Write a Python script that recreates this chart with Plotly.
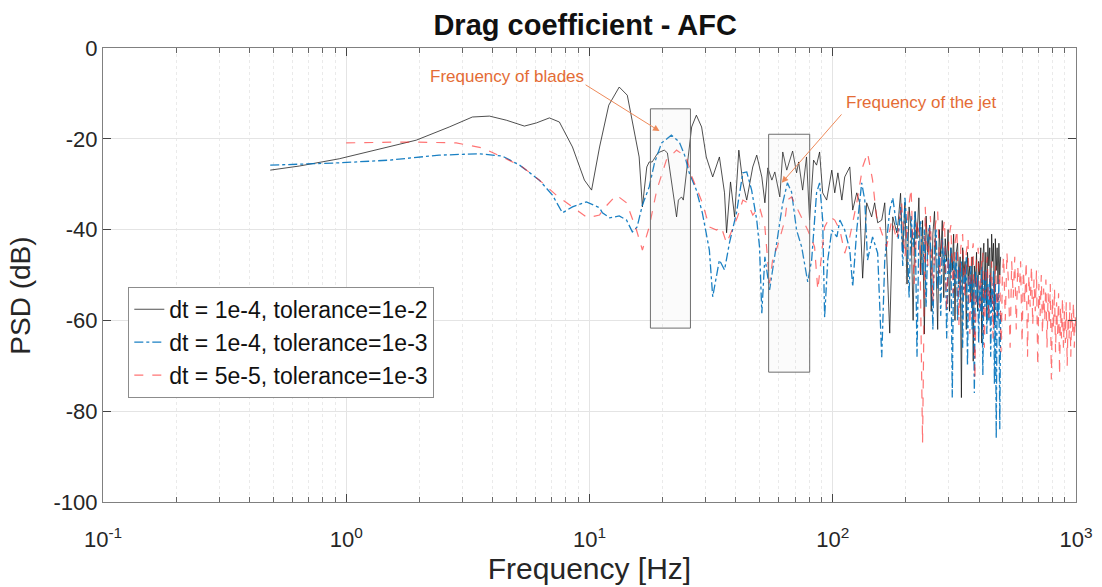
import math
import plotly.graph_objects as go

# ---------------- data (frequency [Hz], PSD [dB]) ----------------
black_smooth = [
    (0.487, -26.9), (0.641, -26.0), (0.936, -24.4), (1.41, -22.0), (1.94, -20.3),
    (2.65, -17.4), (3.30, -15.2), (3.88, -15.0), (4.55, -15.9), (5.40, -17.2),
    (6.05, -16.5), (6.84, -15.4), (7.52, -16.3), (8.51, -21.8), (9.53, -29.1),
    (10.2, -31.3), (11.0, -21.8), (12.0, -12.6), (13.25, -8.6), (14.3, -10.4),
    (15.3, -18.1), (16.0, -24.0), (16.5, -35.0), (17.2, -26.2), (17.6, -25.1),
    (18.1, -25.1), (19.1, -23.1), (20.3, -22.5), (20.9, -23.1), (21.9, -30.6),
    (22.8, -37.2), (23.2, -33.5), (23.9, -32.8), (24.3, -33.5), (25.3, -24.7),
    (26.3, -17.4), (27.5, -14.8), (28.9, -17.4), (30.2, -24.0), (32.1, -28.4),
    (34.2, -24.0), (35.9, -31.9), (36.6, -40.7), (38.0, -29.5), (39.5, -37.2),
    (41.1, -22.5), (42.7, -29.7), (44.3, -33.5), (46.9, -26.2), (48.7, -23.6),
    (51.1, -28.4), (52.6, -34.1), (54.1, -26.4), (56.2, -29.1), (57.8, -27.3),
    (60.6, -32.8), (62.3, -22.9), (64.7, -26.9), (68.4, -22.7), (71.0, -27.5),
    (72.4, -25.1), (75.2, -31.3), (78.0, -24.0), (80.3, -37.9), (83.4, -24.7),
    (85.8, -25.8), (88.3, -22.9), (90.9, -31.9), (94.4, -33.5), (99.1, -26.9),
    (101.9, -31.9), (105.0, -27.5), (109.0, -33.5), (112.0, -28.4), (117.5, -26.2),
    (120.8, -35.7), (125.5, -31.9), (129.0, -34.1), (132.7, -50.7), (137.9, -34.1),
    (144.5, -37.2), (148.7, -34.1), (153.0, -38.5), (159.0, -37.9), (163.6, -34.1),
    (171.5, -62.8), (176.5, -37.2), (183.4, -40.7),
]
black_noisy = [
    (186, -38), (190, -32), (194, -45), (198, -34), (202, -52), (206, -35), (210, -40),
    (214, -60), (218, -36), (222, -42), (226, -33), (230, -50), (234, -38), (238, -63),
    (242, -37), (246, -45), (250, -39), (254, -58), (258, -41), (262, -36), (266, -48),
    (270, -62), (274, -40), (278, -46), (282, -38), (286, -55), (290, -42), (294, -47),
    (298, -40), (302, -58), (306, -44), (310, -49), (314, -41), (318, -60), (322, -45),
    (326, -43), (330, -52), (334, -46), (338, -77), (342, -44), (346, -50), (350, -47),
    (354, -62), (358, -45), (362, -51), (366, -48), (370, -56), (374, -46), (378, -69),
    (382, -48), (386, -52), (390, -45), (394, -58), (398, -47), (402, -50), (406, -44),
    (410, -65), (414, -46), (418, -43), (422, -54), (426, -45), (430, -60), (434, -42),
    (438, -48), (442, -44), (446, -56), (450, -41), (454, -47), (458, -43), (462, -61),
    (466, -42), (470, -49), (474, -44), (478, -52), (482, -43), (486, -50), (490, -46),
]

blue_smooth = [
    (0.487, -25.8), (0.936, -25.3), (1.50, -24.7), (2.41, -23.6), (3.52, -23.3),
    (4.38, -23.8), (5.16, -25.8), (6.22, -29.1), (7.04, -32.4), (7.74, -36.3),
    (8.51, -35.0), (9.71, -33.9), (11.0, -35.2), (11.3, -36.3), (12.1, -37.4),
    (13.25, -37.0), (14.2, -37.9), (15.0, -40.5), (15.7, -39.4), (16.5, -34.6),
    (17.6, -30.6), (18.5, -25.3), (19.8, -20.9), (21.7, -19.2), (23.4, -20.7),
    (24.6, -23.6), (25.7, -27.5), (27.5, -31.3), (29.1, -36.3), (31.1, -44.5),
    (32.1, -54.8), (33.3, -49.6), (34.2, -46.7), (35.9, -48.9), (37.6, -43.0),
    (40.2, -36.3), (42.7, -27.5), (44.3, -27.3), (46.4, -31.3), (48.7, -37.9),
    (50.0, -43.8), (51.1, -58.4), (52.6, -46.0), (55.0, -53.3), (58.6, -43.8),
    (62.3, -34.1), (65.1, -29.7), (67.7, -31.7), (71.0, -40.1), (74.5, -43.8),
    (78.9, -51.5), (81.9, -46.7), (85.8, -31.9), (88.3, -29.7), (90.9, -37.9),
    (92.6, -59.3), (95.4, -46.7), (99.1, -40.1), (104.0, -41.6), (107.0, -37.9),
    (112.0, -40.1), (117.5, -44.5), (120.8, -52.6), (125.5, -40.1), (131.5, -29.7),
    (135.4, -33.5), (139.0, -46.7), (145.8, -41.6), (153.0, -45.2), (159.0, -68.1),
    (163.6, -46.7), (171.5, -35.7), (176.5, -33.0), (183.4, -40.1),
]
blue_noisy = [
    (186, -42), (190, -35), (194, -48), (198, -33), (202, -40), (206, -55), (210, -37),
    (214, -44), (218, -36), (222, -68), (226, -41), (230, -38), (234, -50), (238, -40),
    (242, -57), (246, -42), (250, -39), (254, -47), (258, -62), (262, -43), (266, -40),
    (270, -53), (274, -45), (278, -59), (282, -42), (286, -48), (290, -44), (294, -64),
    (298, -46), (302, -50), (306, -44), (310, -77), (314, -47), (318, -52), (322, -45),
    (326, -60), (330, -48), (334, -55), (338, -47), (342, -66), (346, -49), (350, -53),
    (354, -46), (358, -70), (362, -50), (366, -54), (370, -48), (374, -62), (378, -51),
    (382, -76), (386, -49), (390, -56), (394, -50), (398, -65), (402, -52), (406, -58),
    (410, -48), (414, -72), (418, -51), (422, -57), (426, -49), (430, -63), (434, -52),
    (438, -60), (442, -50), (446, -68), (450, -53), (454, -58), (458, -49), (462, -74),
    (466, -52), (470, -86), (474, -54), (478, -60), (482, -51), (486, -84), (490, -58),
]

red_smooth = [
    (1.0, -20.9), (1.77, -20.7), (2.83, -20.9), (3.62, -22.0), (4.38, -24.0),
    (5.30, -26.2), (6.22, -29.1), (7.30, -32.4), (8.51, -35.0), (9.80, -37.4),
    (11.0, -36.8), (11.3, -35.7), (12.9, -32.4), (14.2, -34.1), (15.6, -40.1),
    (16.5, -44.5), (17.6, -39.4), (18.9, -31.3), (20.7, -24.7), (22.8, -22.5),
    (25.0, -24.0), (26.4, -28.4), (29.1, -34.1), (31.1, -39.4), (33.3, -40.1),
    (34.8, -39.4), (36.6, -43.0), (38.8, -39.6), (40.6, -37.2), (42.7, -33.5),
    (44.7, -34.1), (46.9, -36.8), (50.0, -35.0), (52.6, -39.4), (55.0, -51.8),
    (56.8, -46.0), (59.2, -43.8), (63.6, -37.9), (65.1, -33.5), (67.7, -32.8),
    (71.0, -35.0), (75.2, -37.9), (78.9, -40.1), (84.2, -43.8), (86.8, -53.3),
    (90.1, -45.2), (92.6, -39.4), (97.4, -37.2), (101.9, -37.9), (107.0, -40.1),
    (112.0, -45.2), (117.5, -41.6), (125.5, -34.1), (132.7, -26.2), (139.0, -23.1),
    (145.8, -29.1), (151.3, -37.2), (159.0, -40.7), (166.6, -43.8), (174.8, -37.9),
    (183.4, -42.3),
]
red_noisy = [
    (186, -40), (192, -34), (198, -46), (204, -36), (210, -31), (216, -52), (222, -38),
    (228, -42), (234, -87), (240, -35), (246, -48), (252, -37), (258, -56), (264, -39),
    (270, -36), (276, -50), (282, -41), (288, -38), (294, -58), (300, -42), (306, -39),
    (312, -54), (318, -43), (324, -40), (330, -61), (336, -44), (342, -41), (348, -55),
    (354, -45), (360, -42), (366, -63), (372, -46), (378, -43), (384, -73), (390, -47),
    (396, -44), (402, -58), (408, -48), (414, -45), (420, -66), (426, -49), (432, -46),
    (438, -60), (444, -50), (450, -47), (456, -64), (462, -51), (468, -48), (474, -59),
    (480, -52), (486, -49), (492, -67), (498, -50),
    (504, -46), (512, -60), (520, -45), (528, -52), (536, -66), (544, -47), (552, -55),
    (560, -46), (568, -62), (576, -48), (584, -54), (592, -47), (600, -65), (608, -49),
    (616, -56), (624, -47), (632, -68), (640, -50), (648, -57), (656, -48), (664, -61),
    (672, -51), (680, -58), (688, -49), (696, -70), (704, -52), (712, -59), (720, -50),
    (728, -63), (736, -53), (744, -60), (752, -51), (760, -66), (768, -54), (776, -61),
    (784, -52), (792, -73), (800, -55), (808, -62), (816, -53), (824, -67), (832, -56),
    (840, -63), (848, -54), (856, -72), (864, -57), (872, -64), (880, -55), (888, -66),
    (896, -58), (904, -65), (912, -56), (920, -70), (928, -59), (936, -64), (944, -56),
    (952, -68), (960, -58), (968, -63), (976, -56), (984, -66), (992, -59), (1000, -62),
]

series_names = ["dt = 1e-4, tolerance=1e-2",
                "dt = 1e-4, tolerance=1e-3",
                "dt = 5e-5, tolerance=1e-3"]

x_tick_vals = [0.1, 1, 10, 100, 1000]
x_tick_text = ["10<sup>-1</sup>", "10<sup>0</sup>", "10<sup>1</sup>",
               "10<sup>2</sup>", "10<sup>3</sup>"]
y_tick_vals = [-100, -80, -60, -40, -20, 0]
y_tick_text = ["-100", "-80", "-60", "-40", "-20", "0"]

# highlighted regions: (f_low, f_high, dB_low, dB_high)
boxes = [(17.8, 26.0, -61.7, -13.4), (54.5, 80.4, -71.4, -19.0)]

# annotations: text, text position (f, dB), arrow tail (f, dB), arrow head (f, dB)
notes = [
    ("Frequency of blades", (4.6, -6.2), (9.5, -7.9), (19.4, -18.3)),
    ("Frequency of the jet", (232.0, -11.9), (110.0, -14.3), (61.7, -29.7)),
]

# ---------------- figure ----------------
def split(pts):
    return [p[0] for p in pts], [p[1] for p in pts]

FONT = "Liberation Sans, Arial, Helvetica, sans-serif"

fig = go.Figure()
styles = [
    dict(color="rgba(20,20,20,0.75)", width=1, dash="solid"),
    dict(color="rgba(0,114,189,0.9)", width=1.3, dash="dashdot"),
    dict(color="rgba(255,30,30,0.62)", width=1.2, dash="dash"),
]
all_series = [black_smooth + black_noisy, blue_smooth + blue_noisy, red_smooth + red_noisy]
for name, pts, st in zip(series_names, all_series, styles):
    fx, fy = split(pts)
    fig.add_trace(go.Scatter(x=fx, y=fy, mode="lines", name=name, line=st))

for (f0, f1, y0, y1) in boxes:
    fig.add_shape(type="rect", xref="x", yref="y",
                  x0=f0, x1=f1, y0=y0, y1=y1,
                  line=dict(color="#6e6e6e", width=1),
                  fillcolor="rgba(200,200,200,0.08)", layer="above")

orange = "#E46C35"
for text, tpos, tail, head in notes:
    fig.add_annotation(x=math.log10(tpos[0]), y=tpos[1], xref="x", yref="y",
                       text=text, showarrow=False,
                       font=dict(family=FONT, size=17, color=orange))
    fig.add_annotation(x=math.log10(head[0]), y=head[1], xref="x", yref="y",
                       ax=math.log10(tail[0]), ay=tail[1], axref="x", ayref="y",
                       text="", showarrow=True, arrowhead=2, arrowsize=1.3,
                       arrowwidth=1, arrowcolor="#EE8A5A", standoff=0)

# y-axis title placed as an annotation (matches reference's vertical offset)
fig.add_annotation(text="PSD (dB)", xref="paper", yref="paper",
                   x=-0.085, y=0.455, xanchor="center", yanchor="middle",
                   textangle=-90, showarrow=False,
                   font=dict(family=FONT, size=28, color="#262626"))

minor_vals = [m * 10 ** e for e in range(-1, 3) for m in range(2, 10)]

axis_font = dict(family=FONT, size=22, color="#262626")
fig.update_layout(
    width=1102, height=587,
    margin=dict(l=103, r=26, t=48, b=85, autoexpand=False),
    paper_bgcolor="white", plot_bgcolor="white",
    title=dict(text="<b>Drag coefficient - AFC</b>", x=0.531, xanchor="center",
               y=0.957, yanchor="middle", yref="container",
               font=dict(family=FONT, size=29, color="#111")),
    legend=dict(x=0.026, y=0.474, xanchor="left", yanchor="top",
                bgcolor="white", bordercolor="#8c8c8c", borderwidth=1,
                font=dict(family=FONT, size=23, color="#111"),
                tracegroupgap=0, itemwidth=30),
    showlegend=True,
)
fig.update_xaxes(
    type="log", range=[-1, 3], automargin=False,
    tickmode="array", tickvals=x_tick_vals, ticktext=x_tick_text,
    ticks="inside", ticklen=8, tickcolor="#444", ticklabelstandoff=18,
    showline=True, linecolor="#808080", linewidth=1, mirror="ticks",
    showgrid=True, gridcolor="#e4e4e4", gridwidth=1,
    minor=dict(tickmode="array", tickvals=minor_vals, ticks="inside", ticklen=5,
               tickcolor="#666", showgrid=True, gridcolor="#eaeaea", griddash="dot"),
    tickfont=axis_font, zeroline=False,
    title=dict(text="Frequency [Hz]", font=dict(family=FONT, size=30, color="#262626"),
               standoff=4),
)
fig.update_yaxes(
    range=[-100, 0], automargin=False,
    tickmode="array", tickvals=y_tick_vals, ticktext=y_tick_text,
    ticks="inside", ticklen=8, tickcolor="#444",
    showline=True, linecolor="#808080", linewidth=1, mirror="ticks",
    showgrid=True, gridcolor="#e4e4e4", gridwidth=1, zeroline=False,
    tickfont=axis_font,
)

fig.write_html("out.html", config={"displayModeBar": False},
               post_script="document.body.style.margin='0px';")
